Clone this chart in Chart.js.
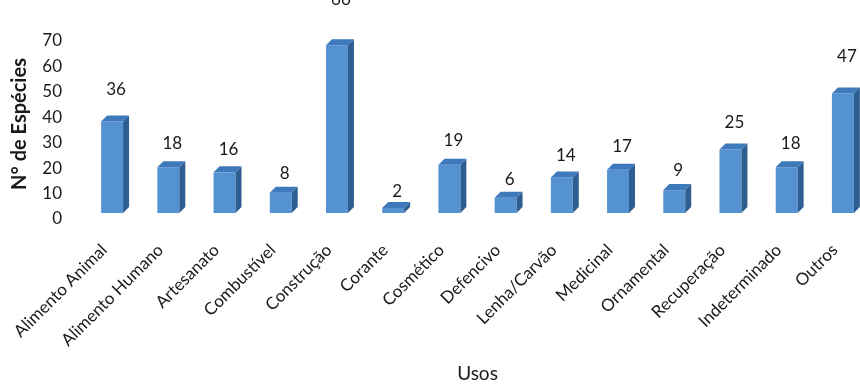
<!DOCTYPE html>
<html>
<head>
<meta charset="utf-8">
<script src="https://cdn.jsdelivr.net/npm/chart.js@4.4.0/dist/chart.umd.min.js"></script>
<style>
  html, body { margin: 0; padding: 0; background: #ffffff; overflow: hidden; width: 860px; height: 387px; }
  #wrap { width: 880px; height: 387px; }
</style>
</head>
<body>
<div id="wrap"><canvas id="c" width="880" height="387"></canvas></div>
<script>
// Usos das espécies e número de espécies por uso
const usos = [
  'Alimento Animal', 'Alimento Humano', 'Artesanato', 'Combustível', 'Construção',
  'Corante', 'Cosmético', 'Defencivo', 'Lenha/Carvão', 'Medicinal',
  'Ornamental', 'Recuperação', 'Indeterminado', 'Outros'
];
const especies = [36, 18, 16, 8, 66, 2, 19, 6, 14, 17, 9, 25, 18, 47];
const yTicks = [0, 10, 20, 30, 40, 50, 60, 70];

const FONT = 'Lato, "Open Sans", sans-serif';
const DEPTH = 6;
const FRONT = '#5592d2';
const TOP = '#3d79bb';
const SIDE = '#2f5f90';

// Top and side faces give each bar its box look
const boxFaces = {
  id: 'boxFaces',
  afterDatasetsDraw(chart) {
    const ctx = chart.ctx;
    const meta = chart.getDatasetMeta(0);
    ctx.save();
    meta.data.forEach(bar => {
      const { x, y, base, width } = bar.getProps(['x', 'y', 'base', 'width'], true);
      const l = x - width / 2, r = x + width / 2, d = DEPTH;
      ctx.fillStyle = SIDE;
      ctx.beginPath();
      ctx.moveTo(r, y); ctx.lineTo(r + d, y - d); ctx.lineTo(r + d, base - d); ctx.lineTo(r, base);
      ctx.closePath(); ctx.fill();
      ctx.fillStyle = TOP;
      ctx.beginPath();
      ctx.moveTo(l, y); ctx.lineTo(l + d, y - d); ctx.lineTo(r + d, y - d); ctx.lineTo(r, y);
      ctx.closePath(); ctx.fill();
    });
    ctx.restore();
  }
};

// Value labels above each bar, set back in perspective
const valueLabels = {
  id: 'valueLabels',
  afterDraw(chart) {
    const ctx = chart.ctx;
    const yScale = chart.scales.y;
    const meta = chart.getDatasetMeta(0);
    ctx.save();
    ctx.font = '17px ' + FONT;
    ctx.fillStyle = '#1a1a1a';
    ctx.textAlign = 'center';
    ctx.textBaseline = 'middle';
    meta.data.forEach((bar, i) => {
      const v = especies[i];
      const ly = yScale.getPixelForValue(v * 1.18) - 15;
      ctx.fillText(String(v), bar.x + 4, ly);
    });
    ctx.restore();
  }
};

new Chart(document.getElementById('c'), {
  type: 'bar',
  data: {
    labels: usos,
    datasets: [{
      data: especies,
      backgroundColor: FRONT,
      borderWidth: 0,
      barPercentage: 0.78,
      categoryPercentage: 0.5
    }]
  },
  options: {
    responsive: false,
    animation: false,
    devicePixelRatio: 1,
    layout: { padding: { top: 35, right: 9, left: 0, bottom: 0 } },
    plugins: { legend: { display: false }, tooltip: { enabled: false } },
    scales: {
      x: {
        grid: { display: false, drawTicks: false },
        border: { display: false },
        ticks: {
          maxRotation: 45, minRotation: 45, autoSkip: false,
          padding: 27, labelOffset: -8,
          color: '#1a1a1a',
          font: { family: FONT, size: 17 }
        },
        title: {
          display: true, text: 'Usos', color: '#1a1a1a',
          font: { family: FONT, size: 19 },
          padding: { top: 0, bottom: 2 }
        },
        afterFit(scale) {
          scale.height = 174;
          scale.paddingLeft = 0;
          scale.paddingRight = 0;
        }
      },
      y: {
        min: 0, max: 70,
        grid: { display: false, drawTicks: false },
        border: { display: false },
        afterBuildTicks(scale) { scale.ticks = yTicks.map(v => ({ value: v })); },
        ticks: {
          padding: 22, labelOffset: 6,
          color: '#1a1a1a',
          font: { family: FONT, size: 17 }
        },
        title: {
          display: true, text: 'N° de Espécies', color: '#1a1a1a',
          font: { family: FONT, size: 20, weight: 'bold' },
          padding: { top: 8, bottom: 0 }
        },
        afterFit(scale) { scale.width = 84; }
      }
    }
  },
  plugins: [boxFaces, valueLabels]
});
</script>
</body>
</html>
